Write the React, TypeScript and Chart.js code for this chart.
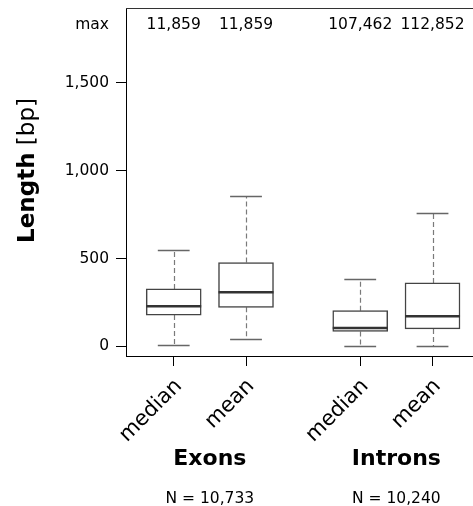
import React, { useEffect, useRef } from 'react';
import { Chart, registerables } from 'chart.js';

Chart.register(...registerables);

const categories = ['median', 'mean', 'median', 'mean'];
const positions = [1, 2, 3.58, 4.58];
const whiskerLow = [7, 44, 2, 2];
const q1 = [178, 222, 85, 99];
const medians = [228, 308, 104, 171];
const q3 = [327, 477, 203, 361];
const whiskerHigh = [547, 857, 382, 758];
const maxLabels = ['11,859', '11,859', '107,462', '112,852'];
const groupNames = ['Exons', 'Introns'];
const groupCounts = ['N = 10,733', 'N = 10,240'];
const yTicks = [0, 500, 1000, 1500];
const maxRowValue = 1830;

const FONT = "'DejaVu Sans', sans-serif";

const boxPlugin = {
  id: 'boxExtras',
  beforeDatasetsDraw(chart: any) {
    const { ctx, scales } = chart;
    const x = scales.x;
    const y = scales.y;
    ctx.save();
    positions.forEach((p, i) => {
      const cx = Math.round(x.getPixelForValue(p)) + 0.5;
      const capL = x.getPixelForValue(p - 0.22);
      const capR = x.getPixelForValue(p + 0.22);
      const yHi = Math.round(y.getPixelForValue(whiskerHigh[i])) + 0.5;
      const yLo = Math.round(y.getPixelForValue(whiskerLow[i])) + 0.5;
      ctx.strokeStyle = '#7a7a7a';
      ctx.lineWidth = 1.2;
      ctx.setLineDash([5, 3]);
      ctx.beginPath();
      ctx.moveTo(cx, y.getPixelForValue(q3[i]));
      ctx.lineTo(cx, yHi);
      ctx.moveTo(cx, y.getPixelForValue(q1[i]));
      ctx.lineTo(cx, yLo);
      ctx.stroke();
      ctx.setLineDash([]);
      ctx.strokeStyle = '#666';
      ctx.lineWidth = 1.4;
      ctx.beginPath();
      ctx.moveTo(capL, yHi);
      ctx.lineTo(capR, yHi);
      ctx.moveTo(capL, yLo);
      ctx.lineTo(capR, yLo);
      ctx.stroke();
    });
    ctx.restore();
  },
  afterDatasetsDraw(chart: any) {
    const { ctx, scales } = chart;
    const y = scales.y;
    const meta = chart.getDatasetMeta(0);
    ctx.save();
    ctx.strokeStyle = '#333';
    ctx.lineWidth = 2.6;
    meta.data.forEach((bar: any, i: number) => {
      const my = y.getPixelForValue(medians[i]);
      ctx.beginPath();
      ctx.moveTo(bar.x - bar.width / 2, my);
      ctx.lineTo(bar.x + bar.width / 2, my);
      ctx.stroke();
    });
    ctx.restore();
  },
  afterDraw(chart: any) {
    const { ctx, scales, chartArea } = chart;
    const x = scales.x;
    const y = scales.y;
    ctx.save();
    // top frame line
    ctx.strokeStyle = '#333';
    ctx.lineWidth = 1;
    ctx.beginPath();
    ctx.moveTo(chartArea.left, chartArea.top + 0.5);
    ctx.lineTo(chartArea.right, chartArea.top + 0.5);
    ctx.stroke();

    // max row
    ctx.fillStyle = '#000';
    ctx.font = `15.5px ${FONT}`;
    ctx.textAlign = 'center';
    ctx.textBaseline = 'middle';
    const my = y.getPixelForValue(maxRowValue);
    positions.forEach((p, i) => {
      ctx.fillText(maxLabels[i], x.getPixelForValue(p), my);
    });

    // group labels
    for (let g = 0; g < groupNames.length; g++) {
      const gx = (x.getPixelForValue(positions[g * 2]) + x.getPixelForValue(positions[g * 2 + 1])) / 2;
      ctx.textBaseline = 'alphabetic';
      ctx.font = `bold 22px ${FONT}`;
      ctx.fillText(groupNames[g], gx, chartArea.bottom + 108.5);
      ctx.font = `15.5px ${FONT}`;
      ctx.fillText(groupCounts[g], gx, chartArea.bottom + 146.5);
    }

    // y title
    ctx.translate(34, 170.5);
    ctx.rotate(-Math.PI / 2);
    ctx.textAlign = 'left';
    ctx.textBaseline = 'alphabetic';
    const boldPart = 'Length';
    const normalPart = ' [bp]';
    ctx.font = `bold 23px ${FONT}`;
    const w1 = ctx.measureText(boldPart).width;
    ctx.font = `23px ${FONT}`;
    const w2 = ctx.measureText(normalPart).width;
    const start = -(w1 + w2) / 2;
    ctx.font = `bold 23px ${FONT}`;
    ctx.fillText(boldPart, start, 0);
    ctx.font = `23px ${FONT}`;
    ctx.fillText(normalPart, start + w1, 0);
    ctx.restore();
  },
};

export default function App() {
  const canvasRef = useRef<HTMLCanvasElement | null>(null);

  useEffect(() => {
    document.body.style.margin = '0';
    const canvas = canvasRef.current;
    if (!canvas) return;
    Chart.defaults.font.family = FONT;
    const chart = new Chart(canvas, {
      type: 'bar',
      data: {
        datasets: [
          {
            data: positions.map((p, i) => ({ x: p, y: [q1[i], q3[i]] })) as any,
            backgroundColor: '#ffffff',
            borderColor: '#444444',
            borderWidth: 1.5,
            borderSkipped: false,
            barThickness: 55,
            grouped: false,
          } as any,
        ],
      },
      options: {
        animation: false,
        responsive: true,
        maintainAspectRatio: false,
        layout: { padding: { top: 8, left: 0, right: 0, bottom: 0 } },
        plugins: { legend: { display: false }, tooltip: { enabled: false } },
        scales: {
          x: {
            type: 'linear',
            min: 0.34,
            max: 5.14,
            offset: false,
            afterBuildTicks: (s: any) => {
              s.ticks = positions.map((v) => ({ value: v }));
            },
            afterFit: (s: any) => {
              s.height = 150;
              s.paddingLeft = 0;
              s.paddingRight = 0;
            },
            ticks: {
              callback: (_v: any, i: number) => categories[i],
              minRotation: 45,
              maxRotation: 45,
              autoSkip: false,
              font: { size: 21, family: FONT },
              color: '#000',
              padding: 8,
              labelOffset: 5,
            },
            grid: { drawOnChartArea: false, offset: false, tickLength: 10, tickColor: '#000', lineWidth: 1 },
            border: { display: true, color: '#000', width: 1 },
          } as any,
          y: {
            type: 'linear',
            min: -55,
            max: 1926,
            afterBuildTicks: (s: any) => {
              s.ticks = [...yTicks, maxRowValue].map((v) => ({ value: v }));
            },
            afterFit: (s: any) => {
              s.width = 126;
              s.paddingTop = 0;
              s.paddingBottom = 0;
            },
            ticks: {
              callback: (v: any) => (v === maxRowValue ? 'max' : Number(v).toLocaleString('en-US')),
              font: { size: 15.5, family: FONT },
              color: '#000',
              padding: 7,
            },
            grid: {
              drawOnChartArea: false,
              tickLength: 10,
              lineWidth: 1,
              tickColor: (ctx: any) => (ctx.tick && ctx.tick.value === maxRowValue ? 'rgba(0,0,0,0)' : '#000'),
            },
            border: { display: true, color: '#000', width: 1 },
          } as any,
        },
      },
      plugins: [boxPlugin],
    });
    return () => chart.destroy();
  }, []);

  return (
    <div style={{ width: 473, height: 506, position: 'relative' }}>
      <canvas ref={canvasRef} />
    </div>
  );
}
